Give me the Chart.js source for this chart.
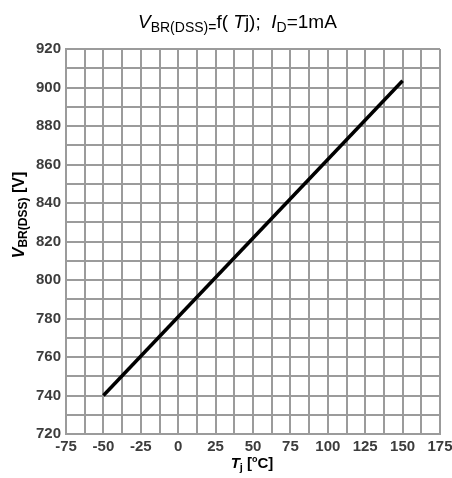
<!DOCTYPE html>
<html>
<head>
<meta charset="utf-8">
<script src="https://cdn.jsdelivr.net/npm/chart.js@4/dist/chart.umd.min.js"></script>
<style>
  html, body { margin: 0; padding: 0; background: #fff; }
  #c { display: block; }
</style>
</head>
<body>
<canvas id="c" width="452" height="478"></canvas>
<script>
// Breakdown voltage vs junction temperature
const tempC = [-50, 150];
const vbrDss = [740, 903.5];

const xTicks = { min: -75, max: 175, step: 12.5, labelEvery: 25 };
const yTicks = { min: 720, max: 920, step: 10, labelEvery: 20 };

const gridColor = '#9b9b9b';
const tickColor = '#3c3c3c';
const tickFont = { family: '"Liberation Sans", Arial, sans-serif', size: 15, weight: 'bold' };

// draw a run of text pieces: [text, font, dy]
function drawRuns(ctx, runs, x, y, align) {
  let total = 0;
  runs.forEach(r => { ctx.font = r[1]; total += ctx.measureText(r[0]).width; });
  let cx = align === 'center' ? x - total / 2 : x;
  runs.forEach(r => {
    ctx.font = r[1];
    ctx.fillText(r[0], cx, y + (r[2] || 0));
    cx += ctx.measureText(r[0]).width;
  });
}

const labelsPlugin = {
  id: 'labels',
  afterDraw(chart) {
    const ctx = chart.ctx;
    const fam = '"Liberation Sans", Arial, sans-serif';
    ctx.save();
    ctx.fillStyle = '#000';
    ctx.textBaseline = 'alphabetic';
    ctx.textAlign = 'left';
    // chart title
    drawRuns(ctx, [
      ['V', 'italic 19px ' + fam, 0],
      ['BR(DSS)=', '14px ' + fam, 4],
      ['f( ', '19px ' + fam, 0],
      ['T', 'italic 19px ' + fam, 0],
      ['j);  ', '19px ' + fam, 0],
      ['I', 'italic 19px ' + fam, 0],
      ['D', '14px ' + fam, 4],
      ['=1mA', '19px ' + fam, 0]
    ], 138, 28, 'left');

    // x-axis title
    drawRuns(ctx, [
      ['T', 'italic bold 15px ' + fam, 0],
      ['j', 'bold 11px ' + fam, 3],
      [' [', 'bold 15px ' + fam, 0],
      ['o', 'bold 9px ' + fam, -6],
      ['C]', 'bold 15px ' + fam, 0]
    ], 252, 468, 'center');

    // y-axis title
    ctx.translate(24, 215);
    ctx.rotate(-Math.PI / 2);
    drawRuns(ctx, [
      ['V', 'italic bold 16px ' + fam, 0],
      ['BR(DSS)', 'bold 12px ' + fam, 3],
      [' [V]', 'bold 16px ' + fam, 0]
    ], 0, 0, 'center');
    ctx.restore();
  }
};

new Chart(document.getElementById('c'), {
  type: 'scatter',
  data: {
    datasets: [{
      data: tempC.map((t, i) => ({ x: t, y: vbrDss[i] })),
      showLine: true,
      borderColor: '#000',
      borderWidth: 3.5,
      pointRadius: 0,
      fill: false
    }]
  },
  options: {
    responsive: false,
    animation: false,
    layout: { padding: { left: 0, right: 12, top: 49, bottom: 0 } },
    plugins: { legend: { display: false }, tooltip: { enabled: false }, title: { display: false } },
    scales: {
      x: {
        type: 'linear',
        min: xTicks.min, max: xTicks.max,
        afterFit(s) { s.height = 44; s.paddingLeft = 0; s.paddingRight = 0; },
        grid: { color: gridColor, lineWidth: 2, drawTicks: false },
        border: { color: gridColor, width: 2 },
        ticks: {
          stepSize: xTicks.step,
          autoSkip: false,
          maxRotation: 0,
          padding: 4,
          color: tickColor,
          font: tickFont,
          callback: v => (Math.abs(v % xTicks.labelEvery) < 1e-9 ? String(v) : '')
        }
      },
      y: {
        type: 'linear',
        min: yTicks.min, max: yTicks.max,
        afterFit(s) { s.width = 66; s.paddingTop = 0; s.paddingBottom = 0; },
        grid: { color: gridColor, lineWidth: 2, drawTicks: false },
        border: { color: gridColor, width: 2 },
        ticks: {
          stepSize: yTicks.step,
          autoSkip: false,
          padding: 5,
          color: tickColor,
          font: tickFont,
          callback: v => (Math.abs(v % yTicks.labelEvery) < 1e-9 ? String(v) : '')
        }
      }
    }
  },
  plugins: [labelsPlugin]
});
</script>
</body>
</html>
